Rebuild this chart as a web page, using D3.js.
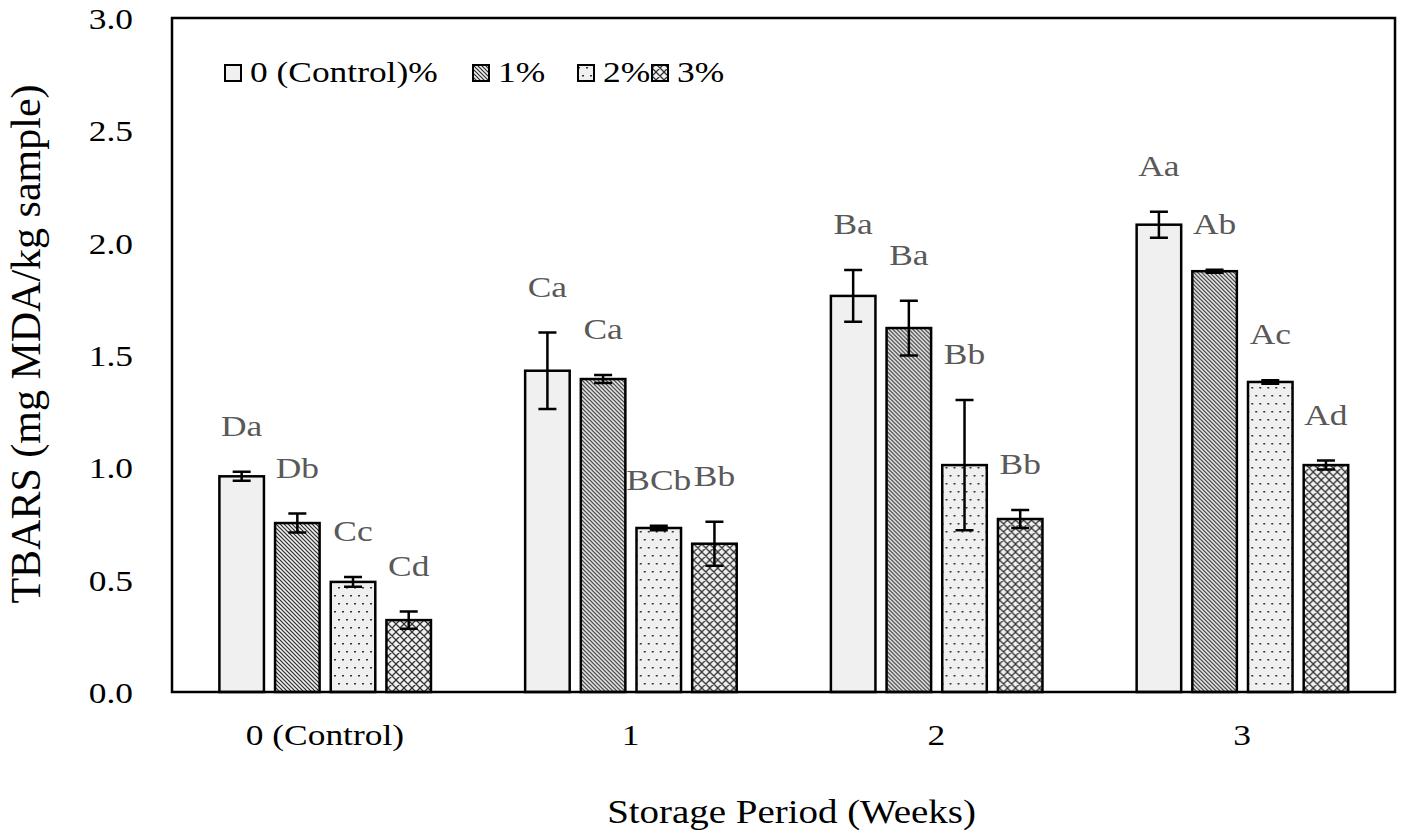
<!DOCTYPE html>
<html>
<head>
<meta charset="utf-8">
<script src="https://cdn.jsdelivr.net/npm/d3@7"></script>
<style>
  html, body { margin: 0; padding: 0; background: #fff; }
  svg text { font-family: "Liberation Serif", "Times New Roman", serif; }
</style>
</head>
<body>
<svg id="chart" width="1410" height="837"></svg>
<script>
// ---------- data ----------
const categories = ["0 (Control)", "1", "2", "3"];
const seriesNames = ["0 (Control)%", "1%", "2%", "3%"];
const control = [0.96, 1.43, 1.763, 2.08];
const pct1 = [0.752, 1.393, 1.62, 1.873];
const pct2 = [0.49, 0.73, 1.01, 1.38];
const pct3 = [0.32, 0.66, 0.77, 1.01];
const errControl = [0.02, 0.17, 0.115, 0.058];
const errPct1 = [0.042, 0.018, 0.122, 0.007];
const errPct2 = [0.022, 0.01, 0.29, 0.008];
const errPct3 = [0.038, 0.098, 0.04, 0.02];
const lettersControl = ["Da", "Ca", "Ba", "Aa"];
const lettersPct1 = ["Db", "Ca", "Ba", "Ab"];
const lettersPct2 = ["Cc", "BCb", "Bb", "Ac"];
const lettersPct3 = ["Cd", "Bb", "Bb", "Ad"];
const yTicks = [0, 0.5, 1.0, 1.5, 2.0, 2.5, 3.0];

const seriesValues = [control, pct1, pct2, pct3];
const seriesErrors = [errControl, errPct1, errPct2, errPct3];
const seriesLetters = [lettersControl, lettersPct1, lettersPct2, lettersPct3];
const patternIds = ["p0", "p1", "p2", "p3"];

// ---------- layout ----------
const SX = 1.18; // horizontal text stretch of the original
const pL = 172, pR = 1395, pT = 18, pB = 692;
const svg = d3.select("#chart");

// patterns
const defs = svg.append("defs");
const bg = "#f0f0f0";
{
  const p = defs.append("pattern").attr("id", "p0").attr("patternUnits", "userSpaceOnUse")
    .attr("width", 8).attr("height", 8);
  p.append("rect").attr("width", 8).attr("height", 8).attr("fill", bg);
}
{
  const p = defs.append("pattern").attr("id", "p1").attr("patternUnits", "userSpaceOnUse")
    .attr("width", 4).attr("height", 4);
  p.append("rect").attr("width", 4).attr("height", 4).attr("fill", bg);
  p.append("path").attr("d", "M-1,-1 L5,5 M-1,3 L1,5 M3,-1 L5,1")
    .attr("stroke", "#2a2a2a").attr("stroke-width", 1.2);
}
{
  const p = defs.append("pattern").attr("id", "p2").attr("patternUnits", "userSpaceOnUse")
    .attr("width", 8).attr("height", 16);
  p.append("rect").attr("width", 8).attr("height", 16).attr("fill", bg);
  p.append("rect").attr("x", 2).attr("y", 3).attr("width", 2).attr("height", 1.5).attr("fill", "#333");
  p.append("rect").attr("x", 6).attr("y", 11).attr("width", 2).attr("height", 1.5).attr("fill", "#333");
}
{
  const p = defs.append("pattern").attr("id", "p3").attr("patternUnits", "userSpaceOnUse")
    .attr("width", 8).attr("height", 8);
  p.append("rect").attr("width", 8).attr("height", 8).attr("fill", bg);
  p.append("path").attr("d", "M-1,-1 L9,9 M9,-1 L-1,9 M-1,7 L1,9 M7,-1 L9,1 M-1,1 L1,-1 M7,9 L9,7")
    .attr("stroke", "#333").attr("stroke-width", 1.3);
}

// scales
const y = d3.scaleLinear().domain([0, 3]).range([pB, pT]);
const x0 = d3.scaleBand().domain(categories).range([pL, pR]).padding(0);
const x1 = d3.scaleBand().domain(seriesNames)
  .range([x0.bandwidth() * 0.155, x0.bandwidth() * 0.847])
  .paddingInner(0.2).paddingOuter(0);

// bars
const groups = svg.append("g").selectAll("g").data(categories).join("g")
  .attr("transform", d => `translate(${x0(d)},0)`);

seriesNames.forEach((s, si) => {
  groups.append("rect")
    .attr("x", x1(s))
    .attr("width", x1.bandwidth())
    .attr("y", (d, ci) => y(seriesValues[si][ci]))
    .attr("height", (d, ci) => y(0) - y(seriesValues[si][ci]))
    .attr("fill", `url(#${patternIds[si]})`)
    .attr("stroke", "#000").attr("stroke-width", 2.5);
});

// error bars
const cap = 9;
seriesNames.forEach((s, si) => {
  const cx = x1(s) + x1.bandwidth() / 2;
  groups.each(function (d, ci) {
    const g = d3.select(this);
    const v = seriesValues[si][ci], e = seriesErrors[si][ci];
    const path = d3.path();
    path.moveTo(cx, y(v + e)); path.lineTo(cx, y(v - e));
    path.moveTo(cx - cap, y(v + e)); path.lineTo(cx + cap, y(v + e));
    path.moveTo(cx - cap, y(v - e)); path.lineTo(cx + cap, y(v - e));
    g.append("path").attr("d", path.toString()).attr("stroke", "#000")
      .attr("stroke-width", 2.5).attr("fill", "none");
    // significance letters
    g.append("text")
      .attr("transform", `translate(${cx},${y(v + e) - 36}) scale(${SX},1)`)
      .attr("text-anchor", "middle")
      .attr("font-size", 30)
      .attr("fill", "#595959")
      .text(seriesLetters[si][ci]);
  });
});

// frame
svg.append("rect").attr("x", pL).attr("y", pT)
  .attr("width", pR - pL).attr("height", pB - pT)
  .attr("fill", "none").attr("stroke", "#000").attr("stroke-width", 2.5);

// y axis
const yAxis = svg.append("g").attr("transform", `translate(${pL},0)`)
  .call(d3.axisLeft(y).tickValues(yTicks).tickFormat(d3.format(".1f")).tickSize(0));
yAxis.select(".domain").remove();
yAxis.selectAll("text")
  .attr("font-family", null)
  .attr("font-size", 30)
  .attr("fill", "#000")
  .attr("x", -39 / SX)
  .attr("dy", "0.35em")
  .attr("transform", `scale(${SX},1)`);

// x axis
const xAxis = svg.append("g").attr("transform", `translate(0,${pB})`)
  .call(d3.axisBottom(x0).tickSize(0));
xAxis.select(".domain").remove();
xAxis.selectAll("text")
  .attr("font-family", null)
  .attr("font-size", 30)
  .attr("fill", "#000")
  .attr("y", 53)
  .attr("dy", 0)
  .attr("transform", `scale(${SX},1)`);

// axis titles
svg.append("text")
  .attr("transform", `translate(${(pL + pR) / 2 + 8},823) scale(${SX},1)`)
  .attr("text-anchor", "middle")
  .attr("font-size", 33)
  .text("Storage Period (Weeks)");

svg.append("text")
  .attr("transform", `translate(40,344) rotate(-90)`)
  .attr("text-anchor", "middle")
  .attr("font-size", 42)
  .text("TBARS (mg MDA/kg sample)");

// legend
const legendX = [225, 473, 578, 652];
const legend = svg.append("g");
seriesNames.forEach((s, i) => {
  legend.append("rect")
    .attr("x", legendX[i]).attr("y", 65)
    .attr("width", 16).attr("height", 16)
    .attr("fill", `url(#${patternIds[i]})`)
    .attr("stroke", "#000").attr("stroke-width", 2);
  legend.append("text")
    .attr("transform", `translate(${legendX[i] + 25},82) scale(${SX},1)`)
    .attr("font-size", 30)
    .attr("fill", "#000")
    .text(s);
});
</script>
</body>
</html>
